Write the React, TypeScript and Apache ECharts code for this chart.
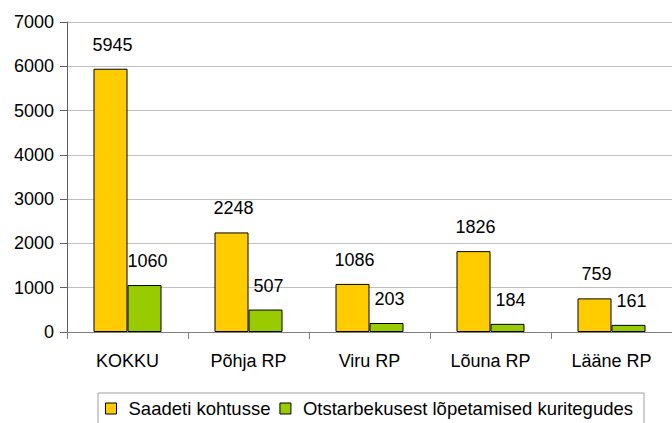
import React, { useEffect, useRef } from "react";
import * as echarts from "echarts";

const categories = ["KOKKU", "Põhja RP", "Viru RP", "Lõuna RP", "Lääne RP"];
const seriesNames = ["Saadeti kohtusse", "Otstarbekusest lõpetamised kuritegudes"];
const sentToCourt = [5945, 2248, 1086, 1826, 759];
const terminated = [1060, 507, 203, 184, 161];

export default function App() {
  const ref = useRef<HTMLDivElement>(null);
  useEffect(() => {
    const chart = echarts.init(ref.current!, null, { renderer: "svg" });
    const font = "'Liberation Sans', Arial, sans-serif";
    const fs = 18;
    chart.setOption({
      animation: false,
      grid: { left: 67, right: 0, top: 22, bottom: 91, containLabel: false },
      xAxis: {
        type: "category",
        data: categories,
        axisLine: { lineStyle: { color: "#808080", width: 1 } },
        axisTick: { show: true, length: 7, inside: false, lineStyle: { color: "#808080" } },
        axisLabel: { color: "#000", fontFamily: font, fontSize: fs, margin: 20 },
      },
      yAxis: {
        type: "value",
        min: 0,
        max: 7000,
        interval: 1000,
        axisLine: { show: true, lineStyle: { color: "#606060", width: 1 } },
        axisTick: { show: true, length: 7, lineStyle: { color: "#606060" } },
        axisLabel: { color: "#000", fontFamily: font, fontSize: fs, margin: 13, formatter: (v: number) => String(v) },
        splitLine: { show: true, lineStyle: { color: "#c0c0c0", width: 1 } },
      },
      legend: {
        left: 98,
        top: 393,
        icon: "rect",
        itemWidth: 11,
        itemHeight: 11,
        itemGap: 9,
        padding: [6, 11, 8, 7],
        borderColor: "#a0a0a0",
        borderWidth: 1,
        textStyle: { fontFamily: font, fontSize: 18.5, color: "#000", padding: [0, 0, 0, 7] },
        data: seriesNames.map((n) => ({ name: n, itemStyle: { borderColor: "#000", borderWidth: 1 } })),
      },
      series: [
        {
          name: seriesNames[0],
          type: "bar",
          data: sentToCourt,
          barWidth: 34,
          barGap: "0%",
          itemStyle: { color: "#FFCC00", borderColor: "#000", borderWidth: 1 },
          label: { show: true, position: "top", distance: 15, offset: [2, 0], color: "#000", fontFamily: font, fontSize: fs },
        },
        {
          name: seriesNames[1],
          type: "bar",
          data: terminated,
          barWidth: 34,
          barGap: "0%",
          itemStyle: { color: "#99CC00", borderColor: "#000", borderWidth: 1 },
          label: { show: true, position: "top", distance: 15, offset: [3, 0], color: "#000", fontFamily: font, fontSize: fs },
        },
      ],
    });
    return () => chart.dispose();
  }, []);
  return <div ref={ref} style={{ position: "fixed", left: 0, top: 0, width: 672, height: 423, background: "#fff" }} />;
}
